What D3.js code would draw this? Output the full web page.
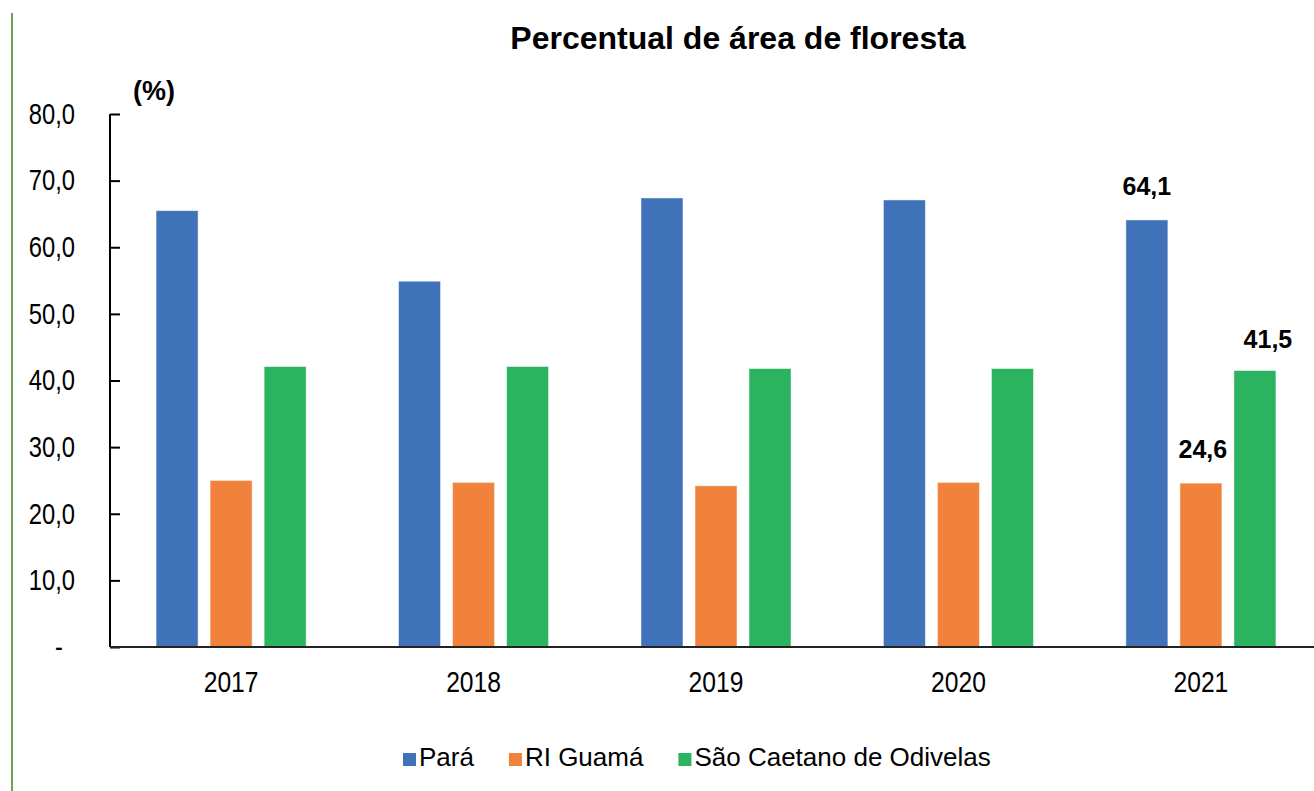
<!DOCTYPE html>
<html lang="en">
<head>
    <title>Percentual de área de floresta</title>
    <script src="https://d3js.org/d3.v7.min.js"></script>
    <style>
        body { margin: 0; background: #fff; }
        svg text { fill: #000; }
        .sans { font-family: "Liberation Sans", Arial, sans-serif; }
    </style>
</head>
<body>
    <svg id="chart"></svg>
    <script>
        var years = ["2017", "2018", "2019", "2020", "2021"];
        var seriesNames = ["Pará", "RI Guamá", "São Caetano de Odivelas"];
        var para = [65.5, 54.9, 67.4, 67.1, 64.1];
        var riGuama = [25.0, 24.7, 24.2, 24.7, 24.6];
        var saoCaetano = [42.1, 42.1, 41.8, 41.8, 41.5];
        var yTicks = [0, 10, 20, 30, 40, 50, 60, 70, 80];
        var colors = ["#3f72b8", "#f0823c", "#2bb35f"];

        var width = 1314, height = 791;
        var margins = { left: 110, top: 114, right: -8, bottom: 144 };

        var series = [para, riGuama, saoCaetano];

        var svg = d3.select("#chart")
            .attr("width", width)
            .attr("height", height);

        // thin green line at the left edge of the picture
        svg.append("line")
            .attr("x1", 12).attr("x2", 12)
            .attr("y1", 13).attr("y2", height)
            .attr("stroke", "#6aa35a")
            .attr("stroke-width", 2);

        var x0 = d3.scaleBand()
            .domain(years)
            .range([margins.left, width - margins.right])
            .paddingInner(0.381)
            .paddingOuter(0.19);
        var x1 = d3.scaleBand()
            .domain(d3.range(seriesNames.length))
            .range([0, x0.bandwidth()])
            .paddingInner(0.222);
        var y = d3.scaleLinear()
            .domain([0, 80])
            .range([height - margins.bottom, margins.top]);

        var fmt = d3.formatLocale({ decimal: ",", thousands: ".", grouping: [3], currency: ["", ""] }).format(".1f");

        // title
        svg.append("text")
            .attr("class", "sans")
            .attr("x", 738)
            .attr("y", 49)
            .attr("text-anchor", "middle")
            .attr("font-weight", "bold")
            .attr("font-size", 32)
            .text("Percentual de área de floresta");

        svg.append("text")
            .attr("class", "sans")
            .attr("x", 133)
            .attr("y", 100)
            .attr("font-weight", "bold")
            .attr("font-size", 27)
            .text("(%)");

        // bars
        var groups = svg.append("g")
            .selectAll("g")
            .data(years)
            .enter()
            .append("g")
            .attr("transform", function (d) { return "translate(" + x0(d) + ",0)"; });

        groups.selectAll("rect")
            .data(function (d, i) { return series.map(function (s, k) { return { k: k, v: s[i] }; }); })
            .enter()
            .append("rect")
            .attr("x", function (d) { return x1(d.k); })
            .attr("width", x1.bandwidth())
            .attr("y", function (d) { return y(d.v); })
            .attr("height", function (d) { return y(0) - y(d.v); })
            .attr("fill", function (d) { return colors[d.k]; })
            .attr("stroke", "#ffffff")
            .attr("stroke-opacity", 0.5)
            .attr("stroke-width", 1);

        // value labels on the last year only
        var last = years.length - 1;
        var labelDx = [0, 2, 13];
        var labelGap = [25, 25, 23];
        svg.append("g")
            .selectAll("text")
            .data(series.map(function (s, k) { return { k: k, v: s[last] }; }))
            .enter()
            .append("text")
            .attr("class", "sans")
            .attr("font-weight", "bold")
            .attr("font-size", 25)
            .attr("text-anchor", "middle")
            .attr("x", function (d) { return x0(years[last]) + x1(d.k) + x1.bandwidth() / 2 + labelDx[d.k]; })
            .attr("y", function (d) { return y(d.v) - labelGap[d.k]; })
            .text(function (d) { return fmt(d.v); });

        // y axis, ticks pointing inward; labels squeezed to look like a narrow face
        var yaxis = d3.axisLeft(y)
            .tickValues(yTicks)
            .tickSize(-10)
            .tickPadding(35)
            .tickFormat(function (d) { return d === 0 ? "-" : fmt(d); });
        var gy = svg.append("g")
            .attr("transform", "translate(" + margins.left + ",0)")
            .call(yaxis);
        gy.select(".domain").attr("stroke-width", 2).attr("d", "M0," + y(80) + "V" + y(0));
        gy.selectAll(".tick line").attr("stroke-width", 2);
        gy.selectAll("text")
            .attr("class", "sans")
            .attr("font-size", 29)
            .attr("fill", "#222")
            .attr("transform", "scale(0.82,1)")
            .attr("x", -35 / 0.82);
        gy.selectAll(".tick").filter(function (d) { return d === 0; })
            .select("text").attr("x", -47 / 0.82);

        // x axis
        var xaxis = d3.axisBottom(x0)
            .tickSize(0)
            .tickPadding(24);
        var gx = svg.append("g")
            .attr("transform", "translate(0," + y(0) + ")")
            .call(xaxis);
        gx.select(".domain").attr("stroke-width", 2).attr("stroke", "#222")
            .attr("d", "M" + margins.left + ",0H" + width);
        gx.selectAll("text")
            .attr("class", "sans")
            .attr("font-size", 29)
            .attr("fill", "#222")
            .attr("transform", "scale(0.85,1)");

        // legend
        var legend = svg.append("g").attr("transform", "translate(403,0)");
        var lx = 0;
        seriesNames.forEach(function (name, k) {
            var item = legend.append("g").attr("transform", "translate(" + lx + ",0)");
            item.append("rect")
                .attr("x", 0).attr("y", 753)
                .attr("width", 13).attr("height", 13)
                .attr("fill", colors[k]);
            var t = item.append("text")
                .attr("class", "sans")
                .attr("x", 16)
                .attr("y", 766)
                .attr("font-size", 26)
                .attr("fill", "#222")
                .text(name);
            lx += 16 + t.node().getComputedTextLength() + 35;
        });
    </script>
</body>
</html>
